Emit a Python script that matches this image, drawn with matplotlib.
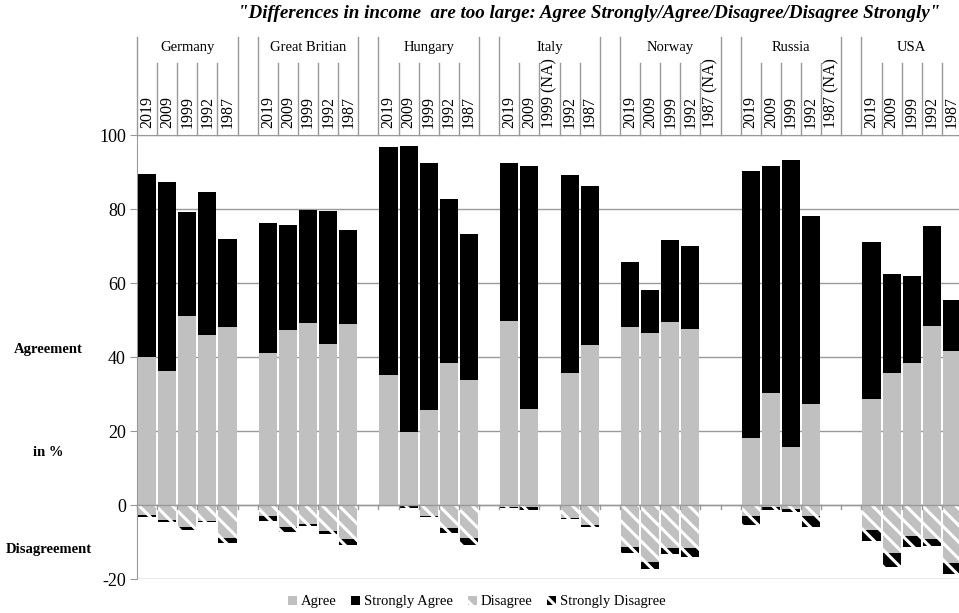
import numpy as np
import matplotlib.pyplot as plt

plt.rcParams['font.family'] = ['Liberation Serif', 'DejaVu Serif']
plt.rcParams['hatch.linewidth'] = 2.2
plt.rcParams['axes.unicode_minus'] = False

nan = np.nan
countries = ['Germany', 'Great Britian', 'Hungary', 'Italy', 'Norway', 'Russia', 'USA']
years = [['2019', '2009', '1999', '1992', '1987'],
         ['2019', '2009', '1999', '1992', '1987'],
         ['2019', '2009', '1999', '1992', '1987'],
         ['2019', '2009', '1999 (NA)', '1992', '1987'],
         ['2019', '2009', '1999', '1992', '1987 (NA)'],
         ['2019', '2009', '1999', '1992', '1987 (NA)'],
         ['2019', '2009', '1999', '1992', '1987']]

agree = [[40, 36.2, 51, 46, 48.2],
         [41, 47.2, 49.2, 43.4, 48.8],
         [35.2, 19.6, 25.8, 38.5, 33.8],
         [49.6, 26, nan, 35.8, 43.2],
         [48.2, 46.6, 49.5, 47.6, nan],
         [18.2, 30.2, 15.8, 27.2, nan],
         [28.7, 35.8, 38.5, 48.3, 41.5]]
strongly_agree = [[49.5, 51.2, 28.3, 38.5, 23.8],
                  [35.2, 28.5, 30.6, 36.1, 25.4],
                  [61.6, 77.4, 66.6, 44.3, 39.4],
                  [42.7, 65.7, nan, 53.3, 43.1],
                  [17.6, 11.4, 22.0, 22.4, nan],
                  [72.1, 61.5, 77.4, 50.9, nan],
                  [42.3, 26.5, 23.3, 27.2, 14.0]]
disagree = [[2.7, 4.0, 6.0, 4.2, 8.8],
            [3.1, 5.9, 5.0, 6.9, 9.3],
            [0.3, 0.4, 2.9, 6.3, 9.0],
            [0.5, 0.6, nan, 3.6, 5.4],
            [11.3, 15.3, 11.7, 11.5, nan],
            [3.1, 0.6, 1.1, 3.1, nan],
            [6.8, 13.1, 8.4, 9.3, 15.6]]
strongly_disagree = [[0.5, 0.5, 0.7, 0.4, 1.4],
                     [1.2, 1.4, 0.6, 0.9, 1.4],
                     [0.1, 0.3, 0.4, 1.2, 1.8],
                     [0.3, 0.8, nan, 0.2, 0.6],
                     [1.6, 2.0, 1.6, 2.6, nan],
                     [2.3, 0.7, 0.9, 2.9, nan],
                     [2.9, 3.6, 3.0, 1.7, 3.0]]

# one slot per year, one empty slot between countries
x = np.array([g * 6 + j for g in range(7) for j in range(5)])
a = np.array(agree).ravel()
sa = np.array(strongly_agree).ravel()
d = np.array(disagree).ravel()
sd = np.array(strongly_disagree).ravel()

fig = plt.figure(figsize=(9.59, 6.13), dpi=100)
ax = fig.add_axes([137 / 959, 1 - 579 / 613, 825 / 959, 444 / 613])

w = 0.9
grey = '#c0c0c0'
ax.bar(x, a, w, color=grey, linewidth=0, label='Agree', zorder=3)
ax.bar(x, sa, w, bottom=a, color='black', linewidth=0, label='Strongly Agree', zorder=3)
ax.bar(x, -d, w, facecolor=grey, edgecolor='white', hatch='\\\\', linewidth=0,
       label='Disagree', zorder=3)
ax.bar(x, -sd, w, bottom=-d, facecolor='black', edgecolor='white', hatch='\\\\',
       linewidth=0, label='Strongly Disagree', zorder=3)

ax.set_xlim(-0.5, 40.5)
ax.set_ylim(-20, 100)
ax.set_yticks(range(-20, 101, 20))
ax.tick_params(axis='y', labelsize=13, length=5, color='#999999', pad=3)
ax.grid(axis='y', color='#999999', linewidth=1, zorder=0)
ax.axhline(0, color='#999999', linewidth=1, zorder=4)

for s in ['right', 'bottom']:
    ax.spines[s].set_visible(False)
for s in ['left', 'top']:
    ax.spines[s].set_color('#999999')
ax.set_xticks([])

lc = '#999999'
tr = ax.get_xaxis_transform()
# small ticks under zero line at slot boundaries
for b in np.arange(-0.5, 41, 1):
    ax.plot([b, b], [0, -1.1], color=lc, lw=1, zorder=4, clip_on=False)

# header: countries and years
top_c = 1.221
top_y = 1.162
for g, c in enumerate(countries):
    left = g * 6 - 0.5
    right = g * 6 + 4.5
    for b in (left, right):
        ax.plot([b, b], [1, top_c], color=lc, lw=1, transform=tr, clip_on=False)
    ax.text(g * 6 + 2, 1.198, c, transform=tr, ha='center', va='center', fontsize=10.5)
    for j in range(5):
        if j < 4:
            ax.plot([g * 6 + j + 0.5] * 2, [1, top_y], color=lc, lw=1, transform=tr,
                    clip_on=False)
        ax.text(g * 6 + j, 1.016, years[g][j], transform=tr, rotation=90,
                ha='center', va='bottom', fontsize=11.5)

fig.text(589 / 959, 1 - 14 / 613,
         '"Differences in income  are too large: Agree Strongly/Agree/Disagree/Disagree Strongly"',
         ha='center', va='center', fontsize=13.7, fontweight='bold', fontstyle='italic')

fig.text(48 / 959, 1 - 350 / 613, 'Agreement', ha='center', va='center',
         fontsize=10.5, fontweight='bold')
fig.text(48 / 959, 1 - 452 / 613, 'in %', ha='center', va='center',
         fontsize=10.5, fontweight='bold')
fig.text(49 / 959, 1 - 550 / 613, 'Disagreement', ha='center', va='center',
         fontsize=10.5, fontweight='bold')

fig.legend(loc='center', bbox_to_anchor=(477 / 959, 1 - 602 / 613), ncol=4,
           frameon=False, fontsize=10.5, handlelength=0.6, handleheight=0.6,
           handletextpad=0.3, columnspacing=1.0)

fig.savefig('out.png', dpi=100)
